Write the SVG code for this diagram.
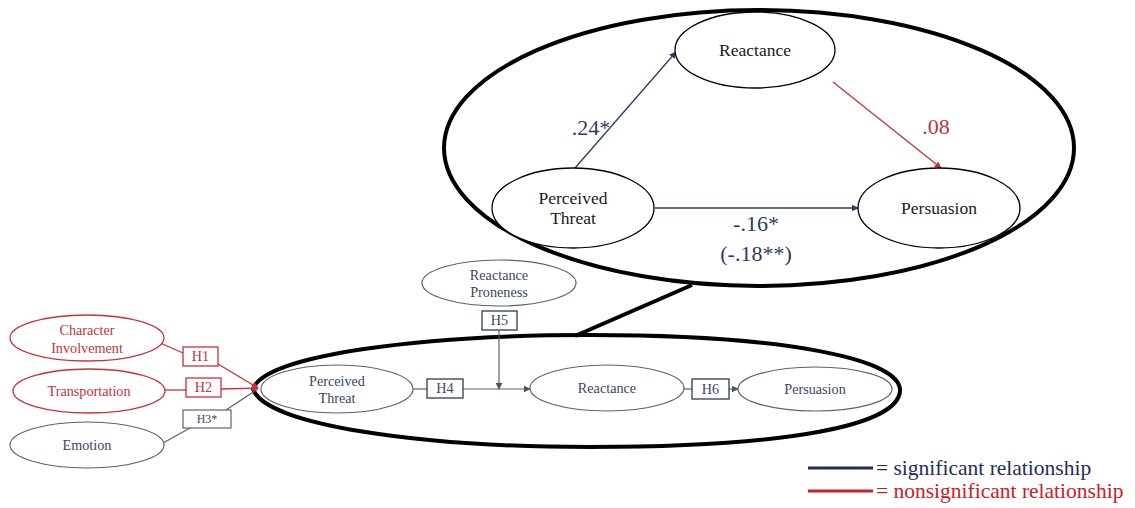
<svg xmlns="http://www.w3.org/2000/svg" width="1135" height="508" viewBox="0 0 1135 508">
<defs>
<style>
text{font-family:"Liberation Serif","Times New Roman",serif;text-anchor:middle}
.big{fill:none;stroke:#000;stroke-width:4}
.top{fill:#fff;stroke:#000;stroke-width:1.3}
.tt{font-size:17.5px;fill:#1a1a1a}
.lo{fill:#fff;stroke:#5a6272;stroke-width:1.2}
.lb{fill:#fff;stroke:#2e3a55;stroke-width:1.3}
.lt{font-size:14.2px;fill:#3a4766}
.red{fill:#fff;stroke:#c8303a;stroke-width:1.3}
.rt{font-size:14.2px;fill:#c0343c}
.num{font-size:22px;fill:#2d3a66}
.nl{stroke:#2d3a66;stroke-width:1.3;fill:none}
.gl{stroke:#5a6272;stroke-width:1.2;fill:none}
.rl{stroke:#c8303a;stroke-width:1.3;fill:none}
</style>
<marker id="ab" viewBox="0 0 10 10" refX="9" refY="5" markerWidth="7" markerHeight="7" orient="auto" markerUnits="userSpaceOnUse"><path d="M0,0L10,5L0,10z" fill="#2d3a66"/></marker>
<marker id="ag" viewBox="0 0 10 10" refX="9" refY="5" markerWidth="7" markerHeight="7" orient="auto" markerUnits="userSpaceOnUse"><path d="M0,0L10,5L0,10z" fill="#4a5266"/></marker>
<marker id="ar" viewBox="0 0 10 10" refX="9" refY="5" markerWidth="7" markerHeight="7" orient="auto" markerUnits="userSpaceOnUse"><path d="M0,0L10,5L0,10z" fill="#c8303a"/></marker>
</defs>
<rect width="1135" height="508" fill="#fff"/>

<g id="zoom-callout">
<ellipse class="big" cx="759" cy="148" rx="315" ry="138"/>
<path class="big" d="M253,389 C265,355 420,335 590,335 C790,335 902,360 900,391 C898,425 790,447 590,447 C420,447 265,425 253,389 Z"/>
<line x1="692" y1="285" x2="575" y2="336" stroke="#000" stroke-width="4"/>
</g>

<g id="connectors">
<line class="nl" x1="575" y1="168" x2="676" y2="52" marker-end="url(#ab)"/>
<line class="nl" x1="655" y1="208" x2="858" y2="208" marker-end="url(#ab)"/>
<line class="rl" x1="833" y1="82" x2="941" y2="168" marker-end="url(#ar)"/>
<text class="num" x="591" y="135">.24*</text>
<text class="num" x="756" y="231">-.16*</text>
<text class="num" x="756" y="261">(-.18**)</text>
<text class="num" x="936" y="134" style="fill:#c0343c">.08</text>

<line class="gl" x1="413" y1="389" x2="427" y2="389"/>
<line class="gl" x1="463" y1="389" x2="530" y2="389" marker-end="url(#ag)"/>
<line class="gl" x1="499" y1="330" x2="499" y2="389" marker-end="url(#ag)"/>
<line class="gl" x1="684" y1="389" x2="692" y2="389"/>
<line class="gl" x1="729" y1="389" x2="738" y2="389" marker-end="url(#ag)"/>

<line class="rl" x1="158" y1="342" x2="183" y2="353"/>
<line class="rl" x1="218" y1="364" x2="258" y2="388" marker-end="url(#ar)"/>
<line class="rl" x1="165" y1="390" x2="186" y2="390"/>
<line class="rl" x1="221" y1="389" x2="258" y2="388" marker-end="url(#ar)"/>
<line class="gl" x1="163" y1="443" x2="190" y2="428"/>
<line class="gl" x1="226" y1="410" x2="258" y2="389"/>
</g>

<g id="top-reactance"><ellipse class="top" cx="755" cy="50" rx="80" ry="38"/><text class="tt" x="755" y="56">Reactance</text></g>
<g id="top-threat"><ellipse class="top" cx="573" cy="208" rx="81" ry="40"/><text class="tt" x="573" y="204">Perceived</text><text class="tt" x="573" y="224">Threat</text></g>
<g id="top-persuasion"><ellipse class="top" cx="939" cy="208" rx="81" ry="40"/><text class="tt" x="939" y="214">Persuasion</text></g>

<g id="proneness"><ellipse class="lo" cx="499" cy="283" rx="77" ry="23"/><text class="lt" x="499" y="280">Reactance</text><text class="lt" x="499" y="297">Proneness</text></g>
<g id="h5"><rect class="lb" x="482" y="311" width="35" height="19"/><text class="lt" x="499.5" y="325">H5</text></g>
<g id="low-threat"><ellipse class="lo" cx="337" cy="389" rx="76" ry="24"/><text class="lt" x="337" y="386">Perceived</text><text class="lt" x="337" y="403">Threat</text></g>
<g id="h4"><rect class="lb" x="427" y="379" width="36" height="19"/><text class="lt" x="445" y="393">H4</text></g>
<g id="low-reactance"><ellipse class="lo" cx="607" cy="388" rx="77" ry="23"/><text class="lt" x="607" y="393">Reactance</text></g>
<g id="h6"><rect class="lb" x="692" y="379" width="37" height="20"/><text class="lt" x="710.5" y="394">H6</text></g>
<g id="low-persuasion"><ellipse class="lo" cx="815" cy="389" rx="77" ry="22"/><text class="lt" x="815" y="394">Persuasion</text></g>

<g id="character"><ellipse class="red" cx="87" cy="338" rx="77" ry="23"/><text class="rt" x="87" y="335">Character</text><text class="rt" x="87" y="353">Involvement</text></g>
<g id="h1"><rect class="red" x="183" y="347" width="35" height="19"/><text class="rt" x="200.5" y="361">H1</text></g>
<g id="transportation"><ellipse class="red" cx="89" cy="391" rx="76" ry="22"/><text class="rt" x="89" y="396">Transportation</text></g>
<g id="h2"><rect class="red" x="186" y="378" width="35" height="19"/><text class="rt" x="203.5" y="392">H2</text></g>
<g id="emotion"><ellipse class="lo" cx="87" cy="445" rx="77" ry="23"/><text class="lt" x="87" y="450">Emotion</text></g>
<g id="h3"><rect class="lo" x="183" y="410" width="48" height="18"/><text class="lt" x="207" y="423" style="font-size:12px">H3*</text></g>

<g id="legend">
<line x1="808" y1="468" x2="873" y2="468" stroke="#1f2d5c" stroke-width="3"/>
<text x="876" y="475" style="text-anchor:start;font-size:21.5px;fill:#1f2d5c">= significant relationship</text>
<line x1="808" y1="491" x2="873" y2="491" stroke="#c8202a" stroke-width="3"/>
<text x="876" y="498" style="text-anchor:start;font-size:21.5px;fill:#c8202a">= nonsignificant relationship</text>
</g>
</svg>
